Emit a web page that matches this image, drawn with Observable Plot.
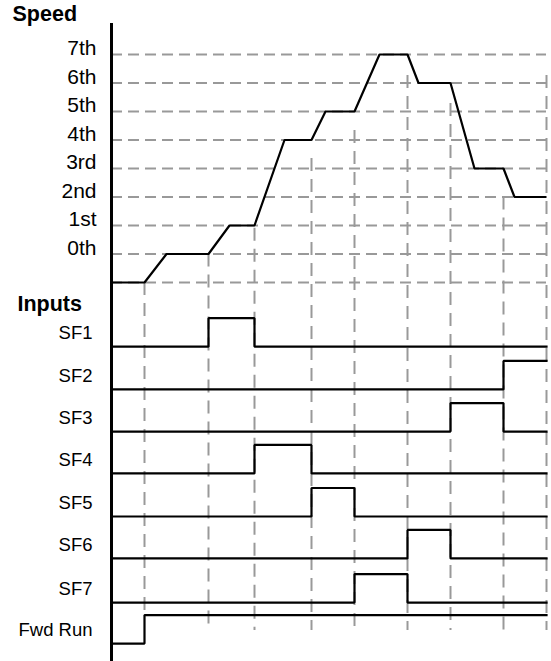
<!DOCTYPE html>
<html>
<head>
<meta charset="utf-8">
<script src="https://cdn.jsdelivr.net/npm/d3@7"></script>
<script src="https://cdn.jsdelivr.net/npm/@observablehq/plot@0.6"></script>
<style>
  html, body { margin: 0; padding: 0; background: #fff; }
  #chart svg { display: block; }
</style>
</head>
<body>
<div id="chart"></div>
<script>
// ---- data (time in arbitrary units, speed in step levels) ----
const speedLabels = ["0th", "1st", "2nd", "3rd", "4th", "5th", "6th", "7th"];
const speedLevels = [0, 1, 2, 3, 4, 5, 6, 7];
const gridLevels = [-1, 0, 1, 2, 3, 4, 5, 6, 7];

const speedT = [0, 33, 55, 97, 118, 143, 173, 200, 214, 243, 268, 296, 307, 339, 363, 392, 403, 435];
const speedV = [-1, -1, 0, 0, 1, 1, 4, 4, 5, 5, 7, 7, 6, 6, 3, 3, 2, 2];

const inputNames = ["SF1", "SF2", "SF3", "SF4", "SF5", "SF6", "SF7", "Fwd Run"];
const inputOn  = [97, 392, 339, 143, 200, 296, 243, 33];
const inputOff = [143, 435, 392, 200, 243, 339, 296, 435];
const inputLow = [-3.25, -4.75, -6.23, -7.7, -9.21, -10.68, -12.23, -13.67];
const pulseHeight = 1;

const markerT      = [33, 97, 143, 200, 243, 296, 339, 392, 435];
const markerTop    = [-1, 0, 0.9, 3.35, 4.33, 6.26, 5.28, 2.0, 6.26];
const markerBottom = [-12.72, -13.21, -13.21, -13.21, -13.21, -13.21, -13.21, -13.21, -13.21];

const tStart = 0, tEnd = 435;
const axisTop = 8.09, axisBottom = -14.5;

// ---- derived tables ----
const speedData = speedT.map((t, i) => ({t, v: speedV[i]}));
const labelData = speedLevels.map((v, i) => ({v, label: speedLabels[i]}));
const markerData = markerT.map((t, i) => ({t, y1: markerTop[i], y2: markerBottom[i]}));

const signalData = [];
inputNames.forEach((name, i) => {
  const lo = inputLow[i], hi = lo + pulseHeight;
  signalData.push({name, t: tStart, v: lo});
  signalData.push({name, t: inputOn[i], v: hi});
  if (inputOff[i] < tEnd) {
    signalData.push({name, t: inputOff[i], v: lo});
    signalData.push({name, t: tEnd, v: lo});
  } else {
    signalData.push({name, t: tEnd, v: hi});
  }
});
const inputLabelData = inputNames.map((name, i) => ({name, v: inputLow[i] + pulseHeight / 2}));

const font = "'Liberation Sans', Arial, Helvetica, sans-serif";

const chart = Plot.plot({
  width: 551,
  height: 661,
  margin: 0,
  x: {domain: [0, 435], range: [111, 546], axis: null},
  y: {domain: [-1, 7], range: [282, 54], axis: null},
  style: {fontFamily: font, background: "#fff", color: "#000", overflow: "visible"},
  marks: [
    // horizontal dashed speed grid
    Plot.ruleY(gridLevels, {y: d => d, x1: tStart, x2: tEnd, stroke: "#999", strokeWidth: 2, strokeDasharray: "11,6"}),
    // vertical dashed event markers
    Plot.ruleX(markerData, {x: "t", y1: "y1", y2: "y2", stroke: "#999", strokeWidth: 2, strokeDasharray: "13,8"}),
    // speed profile
    Plot.line(speedData, {x: "t", y: "v", stroke: "#000", strokeWidth: 2.2, strokeLinejoin: "miter", strokeLinecap: "butt"}),
    // input signals
    Plot.line(signalData, {x: "t", y: "v", z: "name", curve: "step-after", stroke: "#000", strokeWidth: 2.2, strokeLinejoin: "miter", strokeLinecap: "square"}),
    // vertical axis line
    Plot.ruleX([tStart], {y1: axisTop, y2: axisBottom, stroke: "#000", strokeWidth: 3}),
    // speed labels
    Plot.text(labelData, {x: () => tStart, y: "v", text: "label", textAnchor: "end", lineAnchor: "middle", dx: -15, dy: -6, fontSize: 21, fill: "#000"}),
    // input labels
    Plot.text(inputLabelData, {x: () => tStart, y: "v", text: "name", textAnchor: "end", lineAnchor: "middle", dx: -19, dy: 1, fontSize: 18.5, fill: "#000"}),
    // section titles
    Plot.text(["Speed"], {frameAnchor: "top-left", dx: 12, dy: 14, textAnchor: "start", lineAnchor: "middle", fontSize: 21.5, fontWeight: "bold", fill: "#000"}),
    Plot.text(["Inputs"], {frameAnchor: "top-left", dx: 17, dy: 304, textAnchor: "start", lineAnchor: "middle", fontSize: 21.5, fontWeight: "bold", fill: "#000"})
  ]
});
document.getElementById("chart").append(chart);
</script>
</body>
</html>
